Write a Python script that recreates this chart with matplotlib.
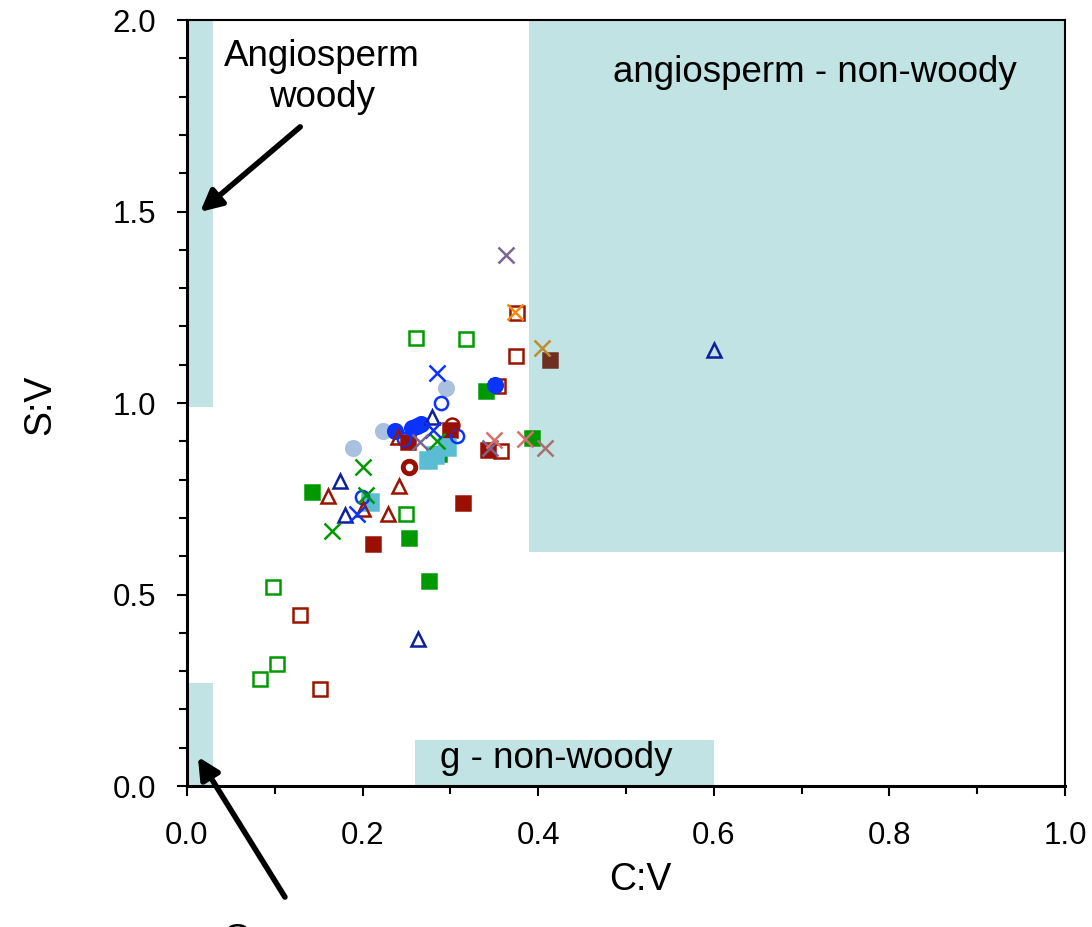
import matplotlib
matplotlib.use("Agg")
import matplotlib.pyplot as plt
from matplotlib.patches import Rectangle
from matplotlib.ticker import MultipleLocator

plt.rcParams['font.family'] = ['Liberation Sans', 'DejaVu Sans']

# ----------------------------
# Data: C:V (x) and S:V (y) per group
# ----------------------------
green_open_sq_x = [0.261, 0.318, 0.249, 0.098, 0.102, 0.083]
green_open_sq_y = [1.170, 1.167, 0.710, 0.520, 0.319, 0.279]

red_open_sq_x = [0.376, 0.375, 0.354, 0.358, 0.129, 0.151]
red_open_sq_y = [1.235, 1.123, 1.044, 0.875, 0.446, 0.253]

green_sq_x = [0.142, 0.341, 0.393, 0.253, 0.276, 0.287]
green_sq_y = [0.768, 1.031, 0.909, 0.648, 0.535, 0.866]

red_sq_x = [0.314, 0.212, 0.343, 0.300, 0.252]
red_sq_y = [0.739, 0.632, 0.877, 0.929, 0.898]

brown_sq_x = [0.413]
brown_sq_y = [1.112]

cyan_sq_x = [0.208, 0.275, 0.282, 0.296]
cyan_sq_y = [0.742, 0.851, 0.864, 0.885]

blue_dot_x = [0.237, 0.256, 0.262, 0.267, 0.351]
blue_dot_y = [0.927, 0.935, 0.940, 0.945, 1.047]

pale_dot_x = [0.189, 0.223, 0.295]
pale_dot_y = [0.883, 0.927, 1.039]

blue_ring_x = [0.289, 0.199, 0.247, 0.308]
blue_ring_y = [1.000, 0.755, 0.907, 0.914]

red_ring_x = [0.253, 0.302]
red_ring_y = [0.833, 0.943]

navy_tri_x = [0.279, 0.174, 0.180, 0.263, 0.600]
navy_tri_y = [0.963, 0.796, 0.708, 0.384, 1.138]

red_tri_x = [0.161, 0.241, 0.229, 0.200, 0.240]
red_tri_y = [0.758, 0.783, 0.711, 0.724, 0.910]

green_x_x = [0.200, 0.165, 0.204, 0.285]
green_x_y = [0.833, 0.667, 0.760, 0.900]

blue_x_x = [0.285, 0.194, 0.280]
blue_x_y = [1.078, 0.710, 0.930]

purple_x_x = [0.363, 0.265, 0.345]
purple_x_y = [1.386, 0.898, 0.883]

salmon_x_x = [0.350, 0.385]
salmon_x_y = [0.903, 0.906]

mauve_x_x = [0.408]
mauve_x_y = [0.883]

orange_x_x = [0.374]
orange_x_y = [1.238]

ochre_x_x = [0.404]
ochre_x_y = [1.144]

# shaded zones: (x0, x1, y0, y1)
zones = [(0.0, 0.03, 0.99, 2.0),
         (0.0, 0.03, 0.0, 0.27),
         (0.39, 1.0, 0.61, 2.0),
         (0.26, 0.60, 0.0, 0.12)]
zone_color = '#c1e3e3'

# ----------------------------
# Figure
# ----------------------------
fig = plt.figure(figsize=(10.92, 9.27), dpi=100)
ax = fig.add_axes([0.1712, 0.1521, 0.8041, 0.8263])

for x0, x1, y0, y1 in zones:
    ax.add_patch(Rectangle((x0, y0), x1 - x0, y1 - y0, facecolor=zone_color,
                           edgecolor='none', zorder=0))

ms = 10
mew = 1.8


def pts(x, y, marker, color, filled=True, size=ms, **kw):
    ax.plot(x, y, linestyle='none', marker=marker, markersize=size,
            markeredgewidth=mew,
            markerfacecolor=color if filled else 'none',
            markeredgecolor=color, zorder=3, **kw)


pts(green_open_sq_x, green_open_sq_y, 's', '#009a00', filled=False, size=9.5)
pts(red_open_sq_x, red_open_sq_y, 's', '#9a1400', filled=False, size=9.5)
pts(green_sq_x, green_sq_y, 's', '#009a00', size=10)
pts(red_sq_x, red_sq_y, 's', '#991000', size=10)
pts(brown_sq_x, brown_sq_y, 's', '#6e2e22', size=10)
pts(cyan_sq_x, cyan_sq_y, 's', '#5bbdd4', size=12)
pts(pale_dot_x, pale_dot_y, 'o', '#a9c1df', size=10.5)
pts(blue_dot_x, blue_dot_y, 'o', '#0a33ff', size=10.5)
pts(blue_ring_x, blue_ring_y, 'o', '#0a33ff', filled=False, size=9.5)
# thick ring for the first dark-red circle
ax.plot(red_ring_x[:1], red_ring_y[:1], linestyle='none', marker='o',
        markersize=9, markeredgewidth=3.5, markerfacecolor='none',
        markeredgecolor='#991000', zorder=3)
pts(red_ring_x[1:], red_ring_y[1:], 'o', '#991000', filled=False, size=10)
pts(navy_tri_x, navy_tri_y, '^', '#0d1f9c', filled=False, size=10)
pts(red_tri_x, red_tri_y, '^', '#9a1400', filled=False, size=10)
pts(green_x_x, green_x_y, 'x', '#009a00', size=11)
pts(blue_x_x, blue_x_y, 'x', '#0a33ff', size=11)
pts(purple_x_x, purple_x_y, 'x', '#7b6592', size=11)
pts(salmon_x_x, salmon_x_y, 'x', '#d4706a', size=11)
pts(mauve_x_x, mauve_x_y, 'x', '#a6716c', size=11)
pts(orange_x_x, orange_x_y, 'x', '#f58a0a', size=11)
pts(ochre_x_x, ochre_x_y, 'x', '#c08b30', size=11)

# ----------------------------
# Axes styling
# ----------------------------
ax.set_xlim(0, 1.0)
ax.set_ylim(0, 2.0)
ax.xaxis.set_major_locator(MultipleLocator(0.2))
ax.xaxis.set_minor_locator(MultipleLocator(0.1))
ax.yaxis.set_major_locator(MultipleLocator(0.5))
ax.yaxis.set_minor_locator(MultipleLocator(0.1))
ax.xaxis.set_major_formatter(plt.FuncFormatter(lambda v, p: f"{v:.1f}"))
ax.yaxis.set_major_formatter(plt.FuncFormatter(lambda v, p: f"{v:.1f}"))
ax.tick_params(which='major', direction='out', length=7, width=1.5,
               labelsize=22.5)
ax.tick_params(which='minor', direction='out', length=5.5, width=1.5)
ax.tick_params(axis='x', which='major', pad=18)
ax.tick_params(axis='y', which='major', pad=15)
for side in ['left', 'bottom', 'top', 'right']:
    ax.spines[side].set_linewidth(1.5)
ax.spines['left'].set_linewidth(2.2)
ax.spines['bottom'].set_linewidth(2.2)

ax.text(0.516, -0.123, "C:V", transform=ax.transAxes, ha='center',
        va='center', fontsize=27, clip_on=False)
ax.text(-0.167, 0.497, "S:V", transform=ax.transAxes, ha='center',
        va='center', rotation=90, fontsize=27, clip_on=False)

# zone labels and arrows
ax.text(0.154, 1.852, "Angiosperm\nwoody", ha='center', va='center',
        fontsize=26.5, linespacing=1.22)
ax.text(0.715, 1.862, "angiosperm - non-woody", ha='center', va='center',
        fontsize=26.5)
ax.text(0.421, 0.073, "g - non-woody", ha='center', va='center',
        fontsize=26.5)
ax.text(0.04, -0.357, "Gymnosperm\nwoody", ha='left', va='top',
        fontsize=26.5, clip_on=False)

arrow = dict(arrowstyle='-|>', lw=4, color='black', mutation_scale=32,
             shrinkA=0, shrinkB=0)
ax.annotate("", xy=(0.015, 1.499), xytext=(0.129, 1.721),
            arrowprops=arrow, annotation_clip=False)
ax.annotate("", xy=(0.0125, 0.076), xytext=(0.1116, -0.290),
            arrowprops=arrow, annotation_clip=False)

fig.savefig("out.png", dpi=100)
